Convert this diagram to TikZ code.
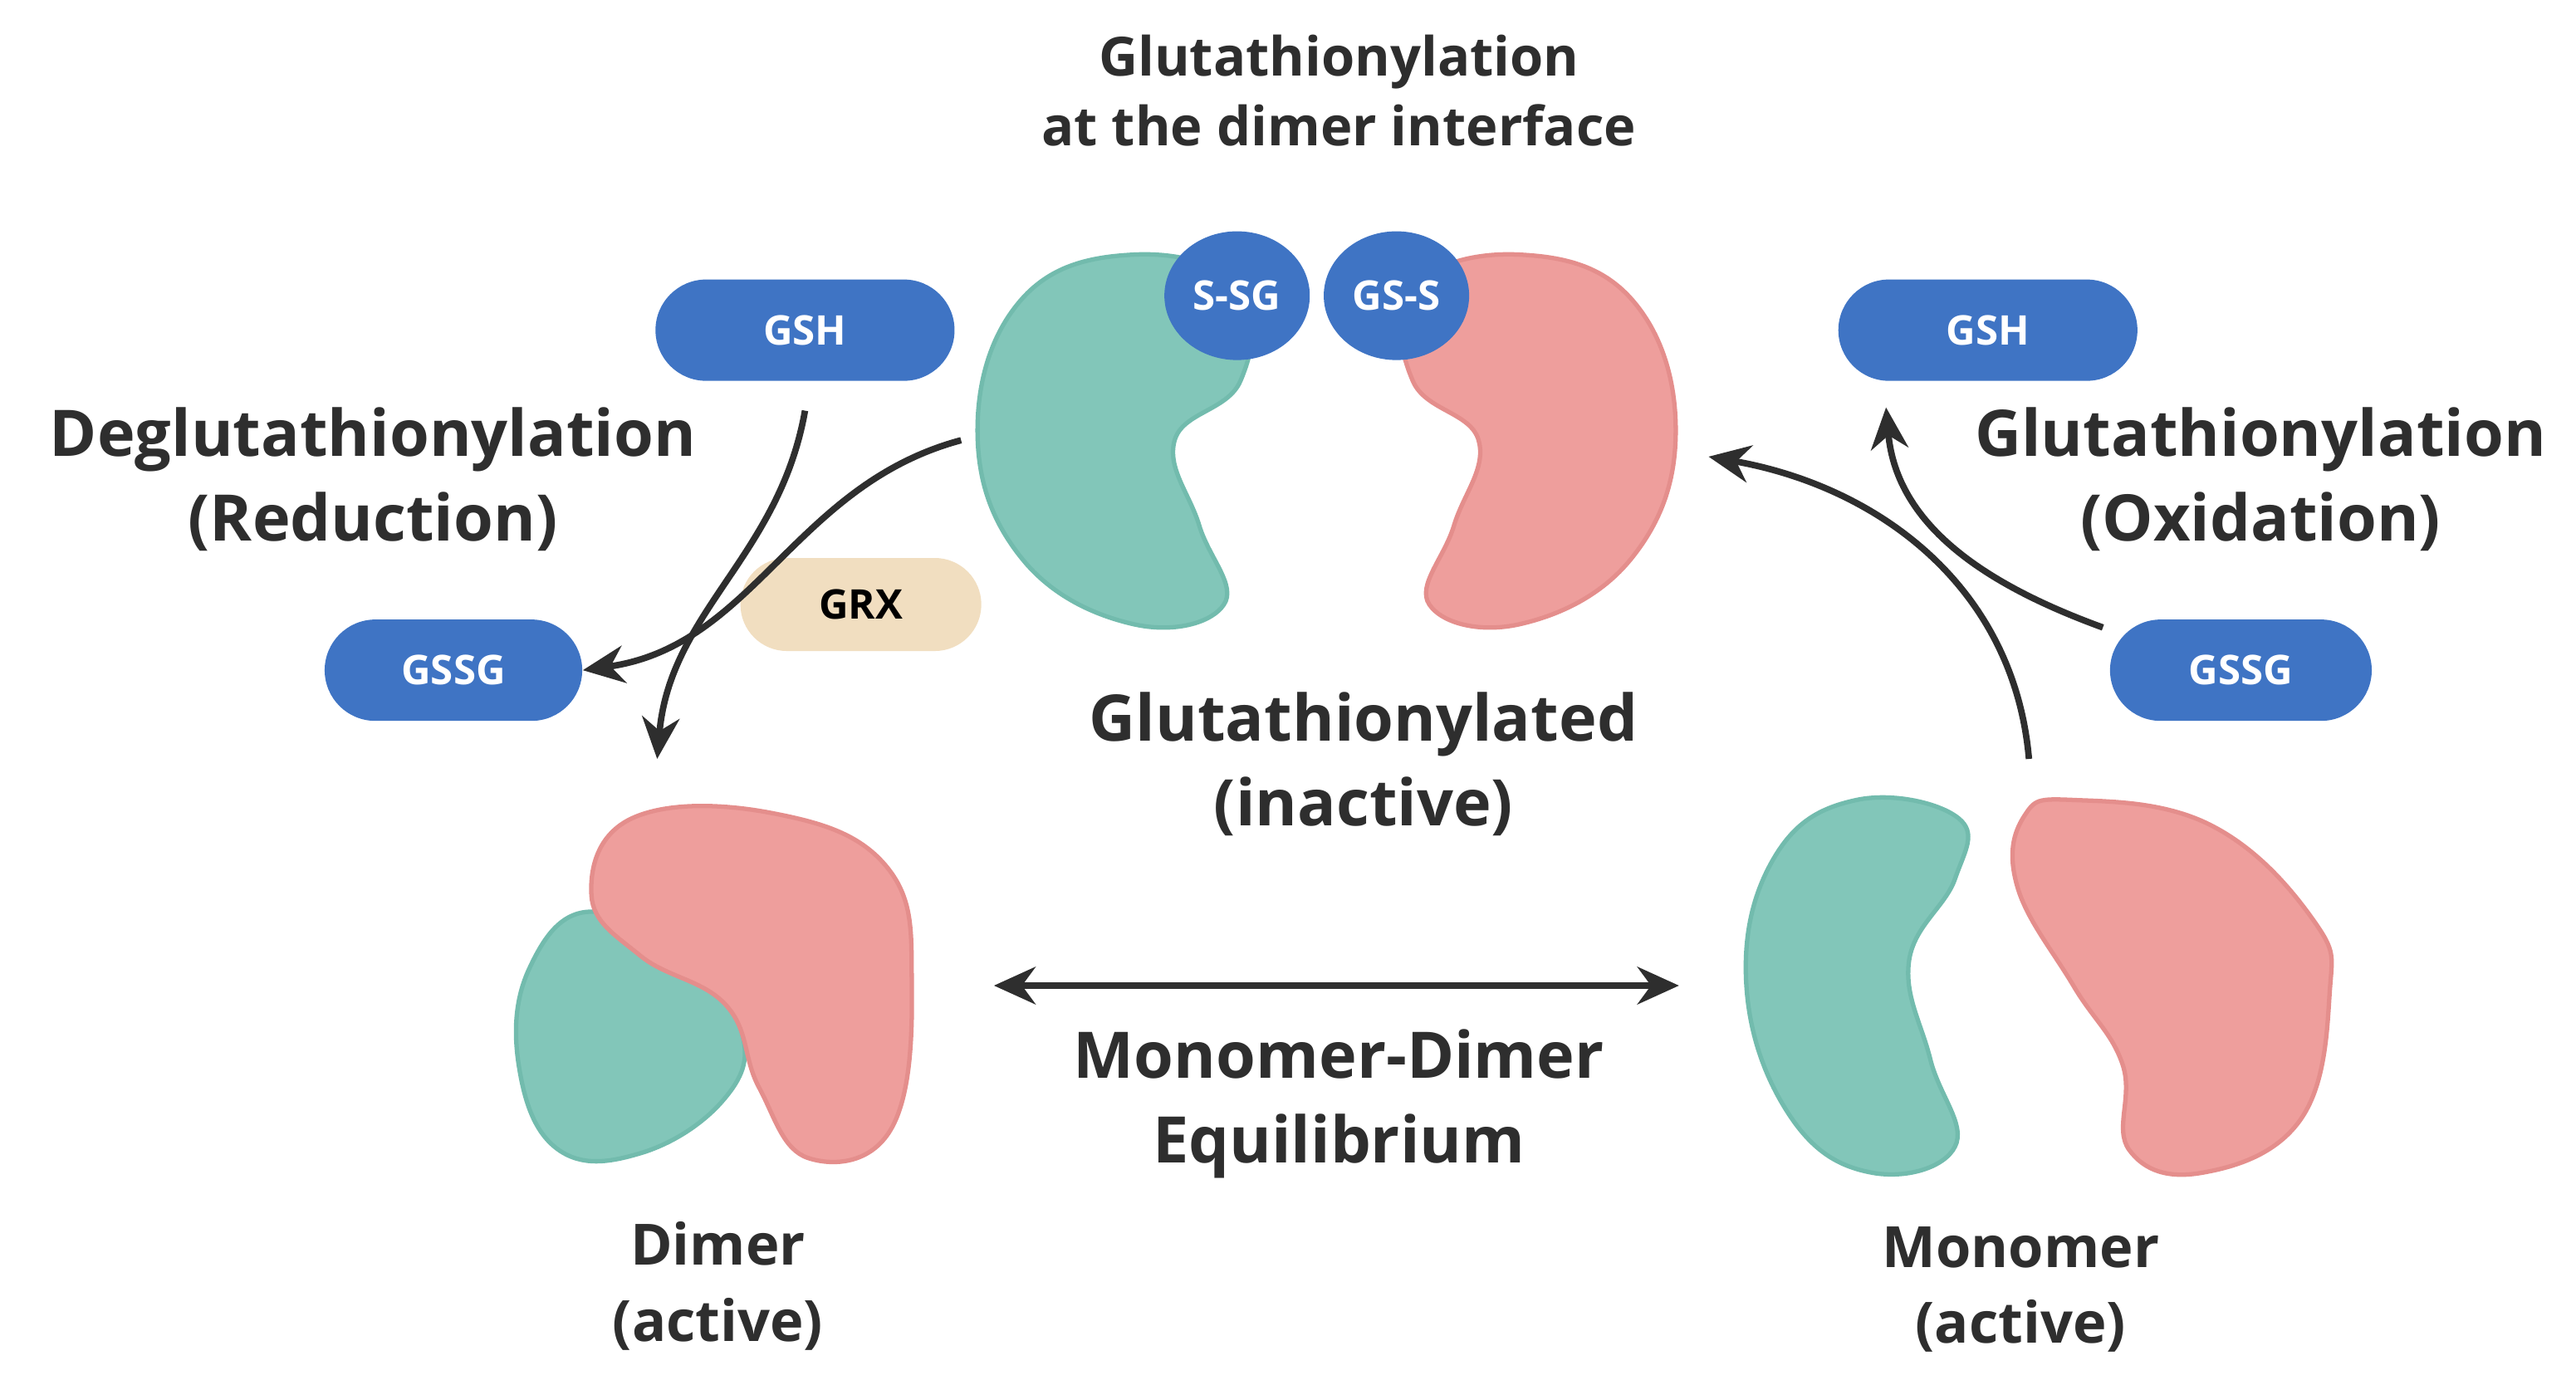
\documentclass[tikz,border=0pt]{standalone}
\usepackage{fontspec}
\setmainfont{Open Sans}
\usetikzlibrary{arrows.meta,shapes.geometric,shapes.misc}
\definecolor{teal1}{HTML}{82C6B9}
\definecolor{teal2}{HTML}{72BBAD}
\definecolor{pink1}{HTML}{EE9E9C}
\definecolor{pink2}{HTML}{E48E8C}
\definecolor{pillblue}{HTML}{3F74C4}
\definecolor{grxtan}{HTML}{F1DEC0}
\definecolor{txt}{HTML}{2E2E2E}
\tikzset{
  pill/.style={rounded rectangle, fill=pillblue, text=white, font=\bfseries\fontsize{14}{16}\selectfont, minimum width=3.6cm, minimum height=1.22cm, inner sep=0pt},
  bead/.style={ellipse, fill=pillblue, text=white, font=\bfseries\fontsize{14}{16}\selectfont, minimum width=1.75cm, minimum height=1.55cm, inner sep=0pt},
  lbl/.style={align=center, text=txt, font=\bfseries\fontsize{22}{29}\selectfont},
  arr/.style={-{Stealth[length=0.5cm,width=0.45cm]}, line width=2.2pt, txt},
  tealblob/.style={fill=teal1, draw=teal2, line width=1.5pt},
  pinkblob/.style={fill=pink1, draw=pink2, line width=1.5pt}
}
\begin{document}
\begin{tikzpicture}[x=0.01978cm,y=-0.01978cm]
\useasboundingbox (0,0) rectangle (1568,840);

% top dimer, glutathionylated
\path[tealblob] plot[smooth cycle,tension=0.7] coordinates {(690,155) (755,175) (755,232) (715,268) (730,320) (745,368) (690,380) (622,340) (595,262) (622,182)};
\path[pinkblob] plot[smooth cycle,tension=0.7] coordinates {(925,155) (860,175) (860,232) (900,268) (885,320) (870,368) (925,380) (993,340) (1020,262) (993,182)};
\node[bead] (ssg) at (753,180) {S-SG};
\node[bead] (gss) at (850,180) {GS-S};

% bottom left dimer
\path[tealblob] plot[smooth cycle,tension=0.7] coordinates {(322,590) (360,555) (420,590) (452,630) (440,670) (390,702) (340,700) (316,650)};
\path[pinkblob] plot[smooth cycle,tension=0.7] coordinates {(385,498) (470,495) (540,528) (555,600) (542,688) (492,705) (462,662) (442,612) (390,582) (360,545)};

% bottom right monomers
\path[tealblob] plot[smooth cycle,tension=0.7] coordinates {(1130,487) (1192,498) (1190,535) (1162,585) (1175,645) (1190,698) (1140,714) (1090,680) (1063,600) (1080,522)};
\path[pinkblob] plot[smooth cycle,tension=0.7] coordinates {(1262,487) (1345,502) (1408,560) (1418,605) (1400,682) (1340,714) (1296,700) (1292,648) (1262,600) (1228,540) (1232,497)};

% pills
\node[pill] (gshL) at (490,201) {GSH};
\node[pill,minimum width=3.1cm] (gssgL) at (276,408) {GSSG};
\node[pill,fill=grxtan,text=black,minimum width=2.9cm,minimum height=1.12cm] (grx) at (524,368) {GRX};
\node[pill] (gshR) at (1210,201) {GSH};
\node[pill,minimum width=3.15cm] (gssgR) at (1364,408) {GSSG};

% labels
\node[lbl,font=\bfseries\fontsize{18.5}{24}\selectfont] (title) at (815,55) {Glutathionylation\\at the dimer interface};
\node[lbl] (deglu) at (227,292) {Deglutathionylation\\(Reduction)};
\node[lbl] (glu) at (1376,292) {Glutathionylation\\(Oxidation)};
\node[lbl] (inact) at (830,465) {Glutathionylated\\(inactive)};
\node[lbl] (equil) at (815,672) {Monomer-Dimer\\Equilibrium};
\node[lbl,font=\bfseries\fontsize{19.5}{26}\selectfont] (dimer) at (437,783) {Dimer\\(active)};
\node[lbl,font=\bfseries\fontsize{19.5}{26}\selectfont] (mono) at (1230,785) {Monomer\\(active)};

% arrows
\coordinate (dimL) at (585,268);
\coordinate (dimR) at (1040,278);
\coordinate (monoT) at (1235,462);
\coordinate (dimB) at (400,462);
\coordinate (gshLs) at (490,250);
\coordinate (gssgRw) at (1280,382);
\coordinate (gshRs) at (1148,248);
\coordinate (eqL) at (605,600);
\coordinate (eqR) at (1022,600);
\draw[arr] (dimL) to[out=195,in=8] (gssgL.east);
\draw[arr] (gshLs) to[out=-100,in=85] (dimB);
\draw[arr] (monoT) to[out=95,in=-10] (dimR);
\draw[arr] (gssgRw) to[out=160,in=-85] (gshRs);
\draw[arr,{Stealth[length=0.5cm,width=0.45cm]}-{Stealth[length=0.5cm,width=0.45cm]}] (eqL) -- (eqR);
\end{tikzpicture}
\end{document}
